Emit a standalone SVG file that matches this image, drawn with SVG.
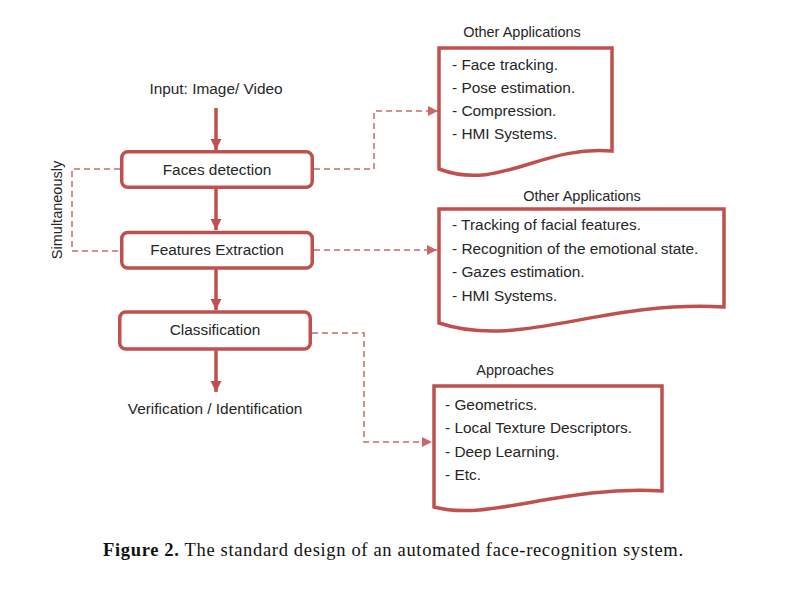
<svg xmlns="http://www.w3.org/2000/svg" width="797" height="596" viewBox="0 0 797 596">
<defs>
<style>
.t{font-family:"Liberation Sans",Arial,sans-serif;font-size:15.4px;fill:#262626}
.ti{font-family:"Liberation Sans",Arial,sans-serif;font-size:14.5px;fill:#262626}
.box{fill:#fff;stroke:#C0504D;stroke-width:3.5}
.doc{fill:#fff;stroke:#C0504D;stroke-width:3.5;stroke-linejoin:miter}
.solid{stroke:#C0504D;stroke-width:3.5;fill:none}
.dash{stroke:#C0504D;stroke-width:1.5;fill:none;stroke-dasharray:6 4;opacity:0.85}
.cap{font-family:"Liberation Serif","Times New Roman",serif;font-size:18.5px;fill:#111}
</style>
<marker id="ah" viewBox="0 0 10 10" refX="10" refY="5" markerWidth="3.2" markerHeight="3.2" orient="auto" markerUnits="strokeWidth">
<path d="M0,0 L10,5 L0,10 z" fill="#C0504D"/>
</marker>
<marker id="ahd" viewBox="0 0 10 10" refX="10" refY="5" markerWidth="7" markerHeight="7" orient="auto" markerUnits="strokeWidth">
<path d="M0,0 L10,5 L0,10 z" fill="#C0504D"/>
</marker>
</defs>

<g id="connectors">
<line class="solid" x1="216" y1="108" x2="216" y2="150" marker-end="url(#ah)"/>
<line class="solid" x1="216" y1="189" x2="216" y2="230" marker-end="url(#ah)"/>
<line class="solid" x1="216" y1="269" x2="216" y2="310" marker-end="url(#ah)"/>
<line class="solid" x1="216" y1="350" x2="216" y2="392" marker-end="url(#ah)"/>
<polyline class="dash" points="120,169 72,169 72,251 120,251"/>
<polyline class="dash" points="314,169 374,169 374,111 438,111" marker-end="url(#ahd)"/>
<line class="dash" x1="314" y1="250" x2="437" y2="250" marker-end="url(#ahd)"/>
<polyline class="dash" points="312,333 364,333 364,442 432,442" marker-end="url(#ahd)"/>
</g>

<g id="input"><text class="t" x="216" y="94" text-anchor="middle">Input: Image/ Video</text></g>

<g id="faces-detection">
<rect class="box" x="121.75" y="151.75" width="190.5" height="35.5" rx="6"/>
<text class="t" x="217" y="175" text-anchor="middle">Faces detection</text>
</g>

<g id="features-extraction">
<rect class="box" x="121.75" y="232.5" width="190.5" height="35.5" rx="6"/>
<text class="t" x="217" y="255" text-anchor="middle">Features Extraction</text>
</g>

<g id="classification">
<rect class="box" x="119.75" y="312" width="190.5" height="37" rx="6"/>
<text class="t" x="215" y="335" text-anchor="middle">Classification</text>
</g>

<g id="output"><text class="t" x="215" y="414" text-anchor="middle">Verification / Identification</text></g>

<g id="simultaneously"><text class="ti" transform="translate(62,210) rotate(-90)" text-anchor="middle">Simultaneously</text></g>

<g id="doc-apps-1">
<text class="ti" x="522" y="37" text-anchor="middle">Other Applications</text>
<path class="doc" d="M439,48 L612,48 L612,151 C540,145 500,192 439,169 Z"/>
<text class="t" x="452" y="70">- Face tracking.</text>
<text class="t" x="452" y="93">- Pose estimation.</text>
<text class="t" x="452" y="116">- Compression.</text>
<text class="t" x="452" y="139">- HMI Systems.</text>
</g>

<g id="doc-apps-2">
<text class="ti" x="582" y="201" text-anchor="middle">Other Applications</text>
<path class="doc" d="M439,209 L724,209 L724,307 C600,300 520,350 439,323 Z"/>
<text class="t" x="452" y="230">- Tracking of facial features.</text>
<text class="t" x="452" y="254">- Recognition of the emotional state.</text>
<text class="t" x="452" y="277">- Gazes estimation.</text>
<text class="t" x="452" y="301">- HMI Systems.</text>
</g>

<g id="doc-approaches">
<text class="ti" x="515" y="375" text-anchor="middle">Approaches</text>
<path class="doc" d="M434,386 L662,386 L662,491 C560,485 490,522 434,507 Z"/>
<text class="t" x="445" y="410">- Geometrics.</text>
<text class="t" x="445" y="433">- Local Texture Descriptors.</text>
<text class="t" x="445" y="457">- Deep Learning.</text>
<text class="t" x="445" y="480">- Etc.</text>
</g>

<g id="caption">
<text class="cap" x="103" y="556" textLength="580" lengthAdjust="spacing"><tspan font-weight="bold">Figure 2.</tspan> The standard design of an automated face-recognition system.</text>
</g>
</svg>
